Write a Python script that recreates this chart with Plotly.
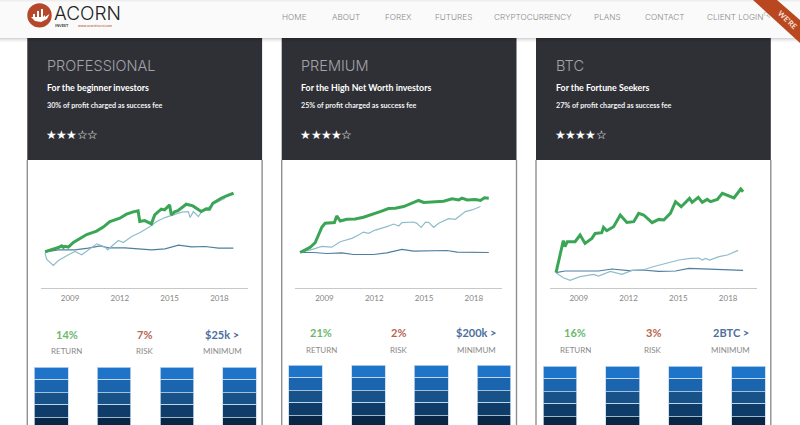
import plotly.graph_objects as go

W, H = 800, 425

# Plan cards
plan_names = ['PROFESSIONAL', 'PREMIUM', 'BTC']
plan_subtitles = ['For the beginner investors', 'For the High Net Worth investors', 'For the Fortune Seekers']
plan_fees = ['30% of profit charged as success fee', '25% of profit charged as success fee', '27% of profit charged as success fee']
plan_stars = [3, 4, 4]
plan_returns = ['14%', '21%', '16%']
plan_risks = ['7%', '2%', '3%']
plan_minimums = ['$25k >', '$200k >', '2BTC >']
tick_years = [2009, 2012, 2015, 2018]
nav_labels = ['HOME', 'ABOUT', 'FOREX', 'FUTURES', 'CRYPTOCURRENCY', 'PLANS', 'CONTACT', 'CLIENT LOGIN']

# Line series, index points over time
pro_green_x = [2007.5, 2007.7, 2007.9, 2008.1, 2008.3, 2008.5, 2008.6, 2008.7, 2008.9, 2009.2, 2009.6, 2010.0, 2010.3, 2010.6, 2011.0, 2011.4, 2012.0, 2012.4, 2012.8, 2013.1, 2013.2, 2013.5, 2013.9, 2014.1, 2014.3, 2014.5, 2014.7, 2015.0, 2015.1, 2015.3, 2015.5, 2016.0, 2016.4, 2016.9, 2017.2, 2017.4, 2017.6, 2018.1, 2018.5, 2018.85]
pro_green_y = [0, 1, 2, 3.2, 4.3, 6, 4.5, 5.5, 4.7, 9.3, 13.3, 17.3, 19, 20.7, 24.7, 30.3, 33.7, 37.7, 40, 41, 30.3, 31.3, 28, 37, 40, 42.7, 42, 47, 37, 40, 41.3, 47.7, 46, 40.3, 43, 42.7, 48.7, 53.7, 56.5, 58.7]
pro_light_x = [2007.49, 2007.59, 2007.99, 2008.3, 2008.9, 2009.3, 2009.7, 2010.1, 2010.61, 2011.11, 2011.27, 2011.61, 2011.91, 2012.21, 2012.71, 2013.22, 2013.82, 2014.22, 2014.72, 2015.22, 2015.73, 2016.13, 2016.23, 2016.43, 2016.73, 2016.93, 2017.73, 2018.34]
pro_light_y = [-1.3, -7.3, -13.7, -8.7, -3, 0.3, -3, 2, 8, 4.7, 2, 7, 11.3, 9.3, 15.3, 19.3, 25.3, 30.3, 34.3, 37, 39.7, 40.3, 34.3, 40.3, 35.3, 40.3, 48.7, 53.7]
pro_dark_x = [2007.49, 2008.3, 2009.3, 2010.1, 2010.81, 2011.31, 2012.31, 2013.12, 2013.92, 2014.72, 2015.53, 2016.33, 2017.13, 2017.94, 2018.84]
pro_dark_y = [0, 2, 2, 3.7, 6, 4, 4, 3.3, 2, 3, 6.7, 5, 5.3, 3.7, 3.7]

prem_green_x = [2007.53, 2007.83, 2008.13, 2008.44, 2008.64, 2008.84, 2009.04, 2009.34, 2009.6, 2009.74, 2009.95, 2010.35, 2010.85, 2011.35, 2011.96, 2012.36, 2012.86, 2013.27, 2013.77, 2014.27, 2014.67, 2014.98, 2015.58, 2016.18, 2016.69, 2017.09, 2017.29, 2017.59, 2018.1, 2018.4, 2018.64, 2018.9]
prem_green_y = [0, 2.3, 5, 9.7, 17.3, 25, 29, 29, 29.7, 36.3, 31.3, 33, 33.3, 35, 38, 40.7, 43.7, 44, 45.7, 49, 51.7, 49.7, 50.7, 51, 53.3, 52.3, 54, 52.3, 52.7, 51.7, 54.3, 54]
prem_light_x = [2007.53, 2008.13, 2008.84, 2009.44, 2009.95, 2010.65, 2011.05, 2011.35, 2011.66, 2012.06, 2012.76, 2013.17, 2013.47, 2013.67, 2014.37, 2014.57, 2014.82, 2015.08, 2015.28, 2015.58, 2015.88, 2016.48, 2016.89, 2017.49, 2017.89, 2018.4]
prem_light_y = [0, 2.3, 6, 5.3, 10.7, 14, 17.3, 20.3, 19, 22.3, 25.7, 28.3, 26.3, 29.7, 30.3, 29, 25, 30, 30, 25, 29, 33.7, 33, 40.7, 42.3, 45.7]
prem_dark_x = [2007.53, 2008.34, 2009.14, 2010.05, 2010.75, 2011.96, 2012.76, 2013.67, 2014.37, 2015.18, 2015.58, 2015.98, 2016.38, 2016.99, 2017.99, 2018.9]
prem_dark_y = [0, 0, -1, -0.3, -2, -2, -0.3, 3, 1.3, 1.3, 2, 1.3, 2, 0.3, 0, 0]

btc_green_x = [2007.63, 2007.81, 2007.97, 2008.07, 2008.17, 2008.31, 2008.78, 2009.08, 2009.38, 2009.79, 2009.99, 2010.39, 2010.49, 2010.69, 2011.1, 2011.5, 2011.9, 2012.31, 2012.61, 2012.91, 2013.42, 2013.82, 2014.12, 2014.52, 2014.83, 2015.17, 2015.67, 2015.83, 2016.2, 2016.44, 2016.74, 2016.94, 2017.35, 2017.65, 2018.35, 2018.76, 2018.9]
btc_green_y = [0, 12.7, 24.3, 32, 26, 31, 31, 37.7, 29.3, 34.3, 39.3, 40, 45.3, 42, 46, 57.7, 50.3, 51, 59.3, 57.7, 50, 53.3, 52.7, 59.3, 71, 66, 74.3, 70.3, 75.3, 70.3, 73.3, 71, 73.3, 79.3, 74.7, 83.7, 81]
btc_light_x = [2007.63, 2008.07, 2008.48, 2009.08, 2009.89, 2010.19, 2010.9, 2011.6, 2012.21, 2012.91, 2013.42, 2014.12, 2015.03, 2015.73, 2016.24, 2016.44, 2016.64, 2016.88, 2017.45, 2017.95, 2018.6]
btc_light_y = [0, -5, -7.7, -4, -1.7, -3.3, 1.3, -1.7, 2.3, 3, 5.7, 9, 12.7, 14.3, 14.7, 12.7, 14.3, 12.7, 16, 17.7, 22.3]
btc_dark_x = [2007.63, 2008.17, 2010.19, 2011, 2012.01, 2012.81, 2013.82, 2014.83, 2015.63, 2017.04, 2018.05, 2018.9]
btc_dark_y = [0, 1.7, 1.7, 3.7, 2, 2.7, 1.3, 1.7, 4.3, 3.3, 2.7, 2.3]

# Stacked blue columns under each plan
bar_slots = [1, 2, 3, 4]
band_values = [1, 1, 1, 1]
band_colors = ['#1e74c8', '#1b65ae', '#175389', '#0f3c69', '#082746']

GREEN = '#3aa655'
LIGHT = '#8fbccb'
DARK = '#4f7f9f'

series = [
    (pro_green_x, pro_green_y, pro_light_x, pro_light_y, pro_dark_x, pro_dark_y),
    (prem_green_x, prem_green_y, prem_light_x, prem_light_y, prem_dark_x, prem_dark_y),
    (btc_green_x, btc_green_y, btc_light_x, btc_light_y, btc_dark_x, btc_dark_y),
]
card_left = [27.3, 281.7, 536]
card_width = 234.8
y_ranges = [[-36, 82], [-35, 82], [-15, 102.7]]
bar_tops = [367, 365, 366]


def px(x):
    return x / W


def py(y):
    return 1 - y / H


def text(s, x, y, size, color, anchor='left', family='Lato', weight=None, angle=0, height=None):
    font = dict(size=size, color=color, family=family)
    if weight:
        font['weight'] = weight
    annotations.append(dict(text=s, x=px(x), y=py(y), xref='paper', yref='paper', showarrow=False,
                            xanchor=anchor, yanchor='middle', font=font, textangle=angle, height=height))


def rect(x0, y0, x1, y1, color, layer='below'):
    shapes.append(dict(type='rect', xref='paper', yref='paper', x0=px(x0), x1=px(x1), y0=py(y0), y1=py(y1),
                       fillcolor=color, line=dict(width=0), layer=layer))


def path(points, color, layer='above'):
    d = 'M' + 'L'.join(f'{px(a):.5f},{py(b):.5f}' for a, b in points) + 'Z'
    shapes.append(dict(type='path', xref='paper', yref='paper', path=d, fillcolor=color, line=dict(width=0), layer=layer))


annotations = []
shapes = []
fig = go.Figure()
layout_axes = {}

for i in range(3):
    left = card_left[i]
    offset = left - card_left[0]

    # card body
    rect(left, 38, left + card_width, 160, '#2f3036')
    rect(left - 0.7, 160, left + 0.7, H, '#8f8f8f')
    rect(left + card_width - 0.7, 160, left + card_width + 0.7, H, '#8f8f8f')

    # heading
    text(plan_names[i], 45 + offset, 66, 14.5, '#a3a3aa', family='Inter', weight=300)
    text(plan_subtitles[i], 45 + offset, 88, 8.8, '#ffffff', weight=700)
    text(plan_fees[i], 45 + offset, 105.5, 7.2, '#f2f2f2', weight=700)
    for s in range(5):
        text('★' if s < plan_stars[i] else '☆', 51.3 + offset + s * 10.3, 135, 12, '#ffffff',
             anchor='center', family='DejaVu Sans')

    # line chart
    n = 1 + i * 2
    xname, yname = f'xaxis{n}' if n > 1 else 'xaxis', f'yaxis{n}' if n > 1 else 'yaxis'
    xref, yref = f'x{n}' if n > 1 else 'x', f'y{n}' if n > 1 else 'y'
    gx, gy, lx, ly, dx, dy = series[i]
    fig.add_trace(go.Scatter(x=dx, y=dy, mode='lines', line=dict(color=DARK, width=1.2), xaxis=xref, yaxis=yref))
    fig.add_trace(go.Scatter(x=lx, y=ly, mode='lines', line=dict(color=LIGHT, width=1.2), xaxis=xref, yaxis=yref))
    fig.add_trace(go.Scatter(x=gx, y=gy, mode='lines', line=dict(color=GREEN, width=3), xaxis=xref, yaxis=yref))
    layout_axes[xname] = dict(domain=[px(left + 13.7), px(left + 220.7)], range=[2007.25, 2019.72], anchor=yref,
                              tickvals=tick_years, ticks='', showgrid=False, zeroline=False, showline=True,
                              linecolor='#c8c8c8', linewidth=1, ticklabelstandoff=3,
                              tickfont=dict(family='Lato', size=8, color='#858585'))
    layout_axes[yname] = dict(domain=[py(287.7), py(170)], range=y_ranges[i], anchor=xref, visible=False)

    # stats row
    stat_y = 334 if i == 0 else 332.5
    label_y = 351 if i == 0 else 350
    for col, (value, label, color) in enumerate([(plan_returns[i], 'RETURN', '#6db76f'),
                                                 (plan_risks[i], 'RISK', '#b9654f'),
                                                 (plan_minimums[i], 'MINIMUM', '#4d6f9c')]):
        cx = [66.7, 144.5, 222][col] + offset
        text(value, cx, stat_y, 11, color, anchor='center', weight=700)
        text(label, cx, label_y, 8, '#8a8a8a', anchor='center')

    # blue columns
    m = 2 + i * 2
    bxref, byref = f'x{m}', f'y{m}'
    for color in band_colors:
        fig.add_trace(go.Bar(x=bar_slots, y=band_values, marker=dict(color=color, line=dict(color='#c5d9ec', width=0.8)),
                             xaxis=bxref, yaxis=byref))
    layout_axes[f'xaxis{m}'] = dict(domain=[px(left), px(left + card_width)], range=[0.618, 4.358], anchor=byref, visible=False)
    layout_axes[f'yaxis{m}'] = dict(domain=[0, py(bar_tops[i])], range=[(H - bar_tops[i]) / 12.5, 0], anchor=bxref, visible=False)

# nav bar
rect(0, 0, W, 38, '#fafafa', layer='above')
rect(0, 0, W, 1.5, '#eeeeee', layer='above')
for k, alpha in enumerate([0.16, 0.1, 0.06, 0.03]):
    rect(0, 38 + k, W, 39 + k, f'rgba(0,0,0,{alpha})', layer='above')

for label, cx in zip(nav_labels, [294, 346, 398, 453.5, 533, 607.5, 664, 735]):
    text(label, cx, 17, 8.2, '#8a8a8a', anchor='center', family='Inter', weight=300)

# logo
shapes.append(dict(type='circle', xref='paper', yref='paper', x0=px(27.3), x1=px(51.7), y0=py(27.5), y1=py(3.3),
                   fillcolor='#b5482a', line=dict(width=0), layer='above'))
path([(31, 17), (35, 21), (41, 22), (47, 19), (49.5, 14), (45, 17), (45, 15), (43, 17), (43, 9), (41, 9), (41, 17),
      (39, 17), (39, 11), (37, 11), (37, 17), (35, 17), (35, 14), (33, 14), (33, 17)], '#ffffff')
text('ACORN', 52, 13.5, 19, '#222222', family='Inter', weight=300, height=18)
text('INVEST', 53, 25, 3.8, '#333333', family='Lato', weight=700, height=5)
text('www.acorninvest.com', 76, 25, 3.5, '#b5482a', family='Lato', height=5)

# search icon next to login
text('🔍︎', 767, 15, 6, '#8a8a8a', anchor='center', family='DejaVu Sans')

# corner ribbon
path([(753, 0), (777, 0), (800, 20), (800, 43)], '#b9471f')
text("WE'RE", 788, 20, 7.5, '#f6e3da', anchor='center', family='Lato', weight=700, angle=43)

fig.update_layout(width=W, height=H, margin=dict(l=0, r=0, t=0, b=0), paper_bgcolor='#ffffff', plot_bgcolor='rgba(0,0,0,0)',
                  showlegend=False, barmode='stack', bargap=0.465, annotations=annotations, shapes=shapes, **layout_axes)

# the page keeps its default body margin otherwise and the figure lands 8px off
fig.write_html("out.html", config=dict(displayModeBar=False),
               post_script="document.body.style.margin='0';document.body.style.overflow='hidden';")
